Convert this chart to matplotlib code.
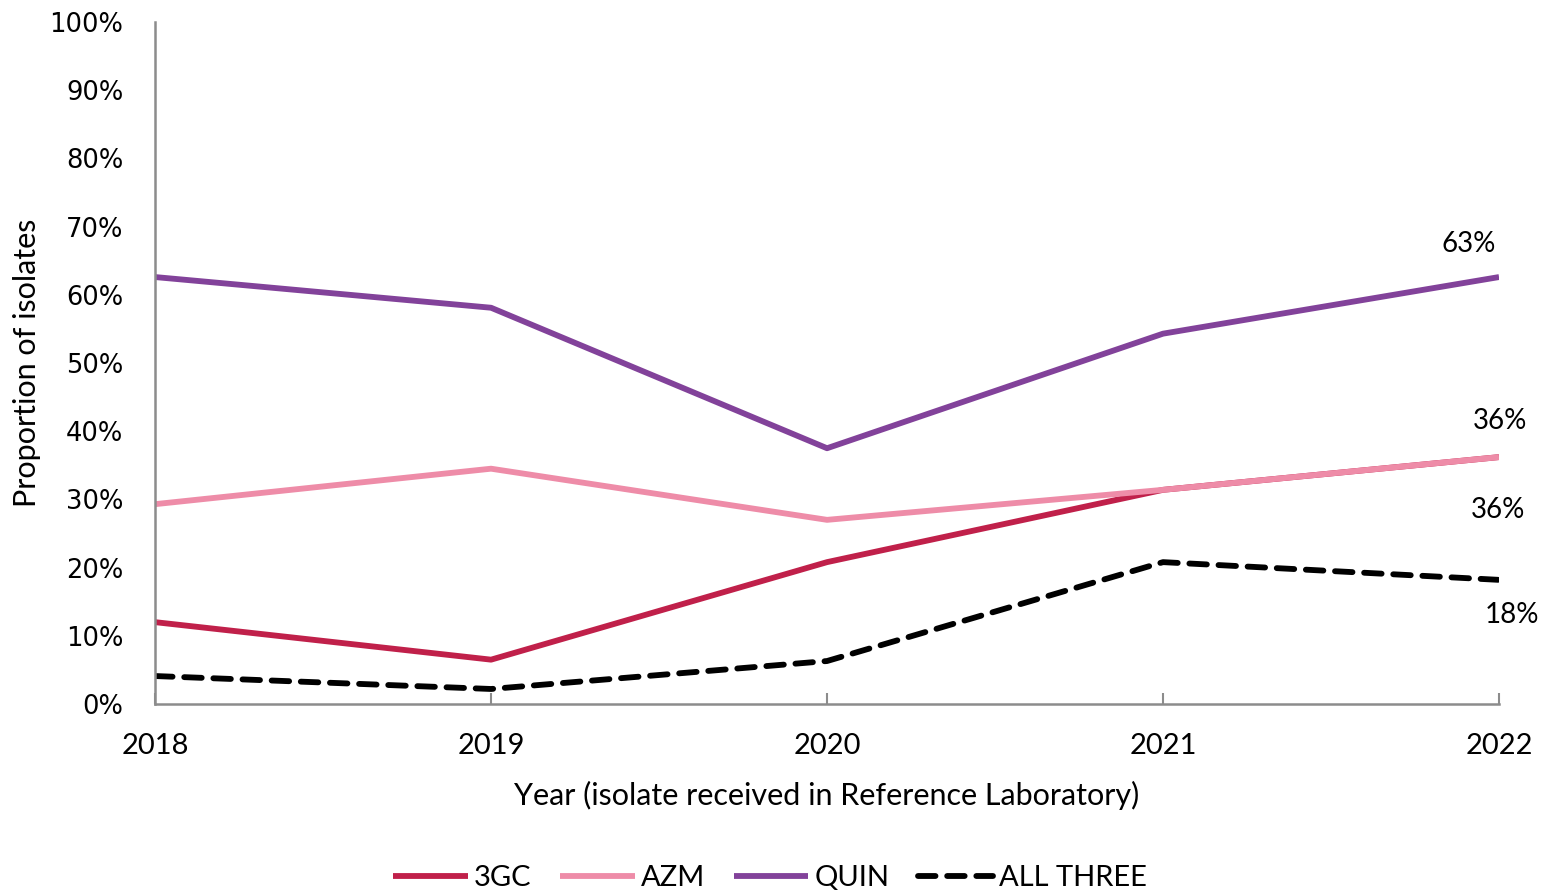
import matplotlib
matplotlib.use("Agg")
import matplotlib.pyplot as plt
from matplotlib.ticker import PercentFormatter

years = [2018, 2019, 2020, 2021, 2022]
gc3 = [12.0, 6.5, 20.8, 31.4, 36.2]
azm = [29.3, 34.5, 27.0, 31.4, 36.2]
quin = [62.6, 58.1, 37.5, 54.3, 62.6]
all_three = [4.1, 2.2, 6.3, 20.8, 18.2]
series_names = ["3GC", "AZM", "QUIN", "ALL THREE"]

main_font = ["Lato", "DejaVu Sans"]

fig = plt.figure(figsize=(15.43, 8.9), dpi=100)
ax = fig.add_axes([0.1005, 0.209, 0.871, 0.7663])

lw = 4.2
ax.plot(years, gc3, color="#C0204A", lw=lw, label=series_names[0], solid_capstyle="butt")
ax.plot(years, azm, color="#EE8CA8", lw=lw, label=series_names[1], solid_capstyle="butt")
ax.plot(years, quin, color="#82429A", lw=lw, label=series_names[2], solid_capstyle="butt")
ax.plot(years, all_three, color="black", lw=lw, ls=(0, (3, 2)), label=series_names[3],
        dash_capstyle="round")

ax.set_xlim(years[0], years[-1])
ax.set_ylim(0, 100)
ax.set_yticks(range(0, 101, 10))
ax.yaxis.set_major_formatter(PercentFormatter(decimals=0))
ax.set_xticks(years)

for s in ["top", "right"]:
    ax.spines[s].set_visible(False)
for s in ["left", "bottom"]:
    ax.spines[s].set_color("#8C8C8C")
    ax.spines[s].set_linewidth(1.8)

ax.tick_params(axis="y", length=0, pad=23, labelsize=18.5)
ax.tick_params(axis="x", direction="in", length=8, width=1.5, color="#8C8C8C",
               pad=21, labelsize=21)
for t in ax.get_xticklabels():
    t.set_fontfamily(main_font)
for t in ax.get_yticklabels():
    t.set_fontfamily(["DejaVu Sans"])
    t.set_horizontalalignment("right")

ax.set_xlabel("Year (isolate received in Reference Laboratory)", fontsize=22,
              family=main_font, labelpad=16)
ax.set_ylabel("Proportion of isolates", fontsize=22, family=main_font, labelpad=6)

# end-point value labels
ax.annotate(f"{quin[-1]:.0f}%", (years[-1], quin[-1]), xytext=(-22, 24),
            textcoords="offset points", ha="center", va="center", fontsize=20, family=main_font)
ax.annotate(f"{azm[-1]:.0f}%", (years[-1], azm[-1]), xytext=(1, 26),
            textcoords="offset points", ha="center", va="center", fontsize=20, family=main_font)
ax.annotate(f"{gc3[-1]:.0f}%", (years[-1], gc3[-1]), xytext=(-1, -38),
            textcoords="offset points", ha="center", va="center", fontsize=20, family=main_font)
ax.annotate(f"{all_three[-1]:.0f}%", (years[-1], all_three[-1]), xytext=(9, -25),
            textcoords="offset points", ha="center", va="center", fontsize=20, family=main_font)

leg = fig.legend(loc="center", bbox_to_anchor=(0.499, 0.013), ncol=4, frameon=False,
                 prop={"family": main_font, "size": 21}, handlelength=2.55,
                 handletextpad=0.2, columnspacing=1.0)
fig.savefig("out.png", dpi=100)
